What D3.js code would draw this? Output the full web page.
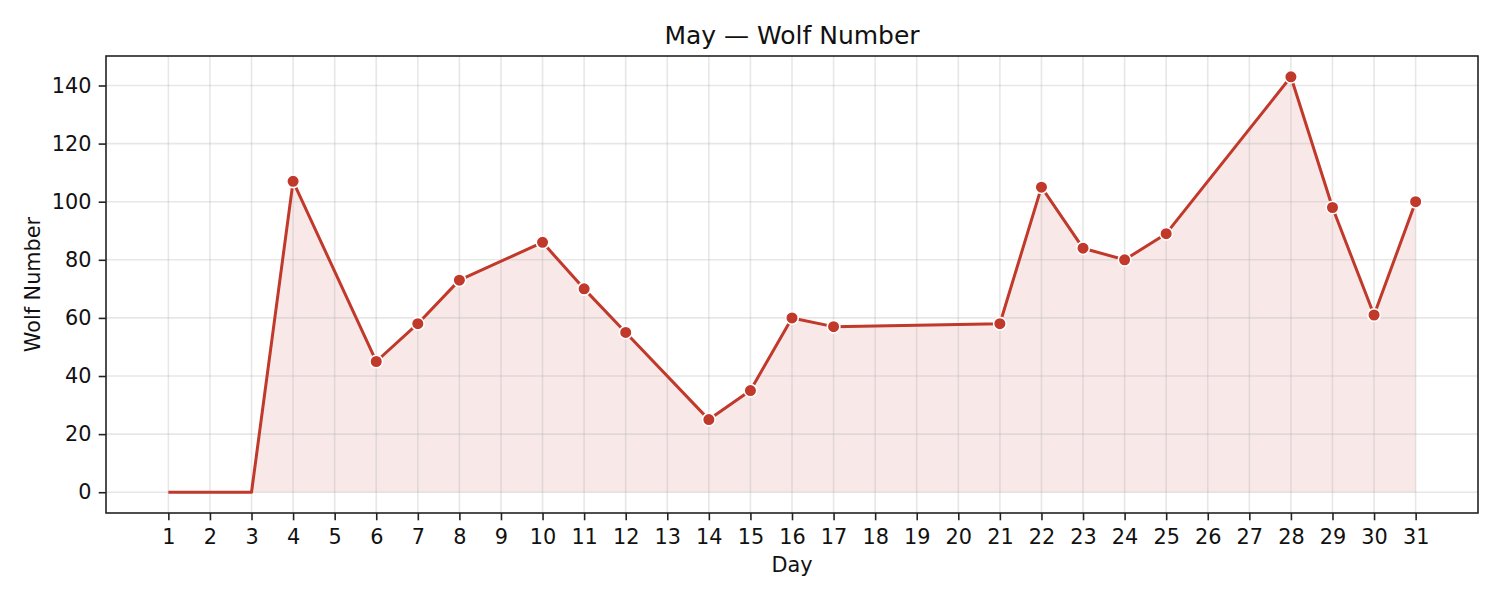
<!DOCTYPE html>
<html><head><meta charset="utf-8">
<script src="https://cdn.jsdelivr.net/npm/d3@7"></script>
<style>body{margin:0;background:#fff}svg{font-family:"DejaVu Sans",sans-serif}</style>
</head><body>
<svg id="c" width="1500" height="600"></svg>
<script>
const lineDays = [1,2,3,4,6,7,8,10,11,12,14,15,16,17,21,22,23,24,25,28,29,30,31];
const lineVals = [0,0,0,107,45,58,73,86,70,55,25,35,60,57,58,105,84,80,89,143,98,61,100];
const markerDays = [4,6,7,8,10,11,12,14,15,16,17,21,22,23,24,25,28,29,30,31];
const markerVals = [107,45,58,73,86,70,55,25,35,60,57,58,105,84,80,89,143,98,61,100];
const fillStartDay = 3;
const xTicks = d3.range(1,32);
const yTicks = [0,20,40,60,80,100,120,140];
const title = "May — Wolf Number";
const xLabel = "Day";
const yLabel = "Wolf Number";

const svg = d3.select("#c");
const L=106,R=1478,T=56,B=513;
const x = d3.scaleLinear().domain([-0.5,32.5]).range([L,R]);
const y = d3.scaleLinear().domain([-7.15,150.15]).range([B,T]);
const color="#c0392b";

const pts = lineDays.map((d,i)=>({d,v:lineVals[i]}));
const mpts = markerDays.map((d,i)=>({d,v:markerVals[i]}));

// fill
const fillPts = pts.filter(p=>p.d>=fillStartDay);
svg.append("path").datum(fillPts)
  .attr("d", d3.area().x(p=>x(p.d)).y0(y(0)).y1(p=>y(p.v)))
  .attr("fill", color).attr("fill-opacity",0.11);

// grid
const g = svg.append("g");
g.selectAll(".vg").data(xTicks).join("line")
  .attr("x1",d=>x(d)).attr("x2",d=>x(d)).attr("y1",T).attr("y2",B)
  .attr("stroke","#b0b0b0").attr("stroke-opacity",0.3).attr("stroke-width",1.6);
g.selectAll(".hg").data(yTicks).join("line")
  .attr("y1",d=>y(d)).attr("y2",d=>y(d)).attr("x1",L).attr("x2",R)
  .attr("stroke","#b0b0b0").attr("stroke-opacity",0.3).attr("stroke-width",1.6);

// line
svg.append("path").datum(pts)
  .attr("d", d3.line().x(p=>x(p.d)).y(p=>y(p.v)))
  .attr("fill","none").attr("stroke",color).attr("stroke-width",3).attr("stroke-linejoin","round");

// markers
svg.selectAll(".m").data(mpts).join("circle")
  .attr("cx",p=>x(p.d)).attr("cy",p=>y(p.v)).attr("r",6.3)
  .attr("fill",color).attr("stroke","#fff").attr("stroke-width",1.6);

// axes
const xa = svg.append("g").attr("transform",`translate(0,${B})`)
  .call(d3.axisBottom(x).tickValues(xTicks).tickSize(7.3).tickPadding(7.3).tickFormat(d3.format("d")));
const ya = svg.append("g").attr("transform",`translate(${L},0)`)
  .call(d3.axisLeft(y).tickValues(yTicks).tickSize(7.3).tickPadding(7.3).tickFormat(d3.format("d")));
[xa,ya].forEach(a=>{
  a.attr("font-size",null).attr("font-family",null);
  a.select(".domain").remove();
  a.selectAll("line").attr("stroke","#222").attr("stroke-width",1.6);
  a.selectAll("text").style("font-size","20.8px").attr("fill","#111").style("font-family","DejaVu Sans");
});
xa.selectAll("text").attr("dy",null).attr("y",30.5);

// frame
svg.append("rect").attr("x",L).attr("y",T).attr("width",R-L).attr("height",B-T)
  .attr("fill","none").attr("stroke","#222").attr("stroke-width",1.6);

svg.append("text").attr("x",(L+R)/2).attr("y",43.5).attr("text-anchor","middle")
  .style("font-size","25px").attr("fill","#111").text(title);
svg.append("text").attr("x",(L+R)/2).attr("y",572).attr("text-anchor","middle")
  .style("font-size","20.8px").attr("fill","#111").text(xLabel);
svg.append("text").attr("transform",`translate(39.5,${(T+B)/2}) rotate(-90)`).attr("text-anchor","middle")
  .style("font-size","20.8px").attr("fill","#111").text(yLabel);
</script>
</body></html>
